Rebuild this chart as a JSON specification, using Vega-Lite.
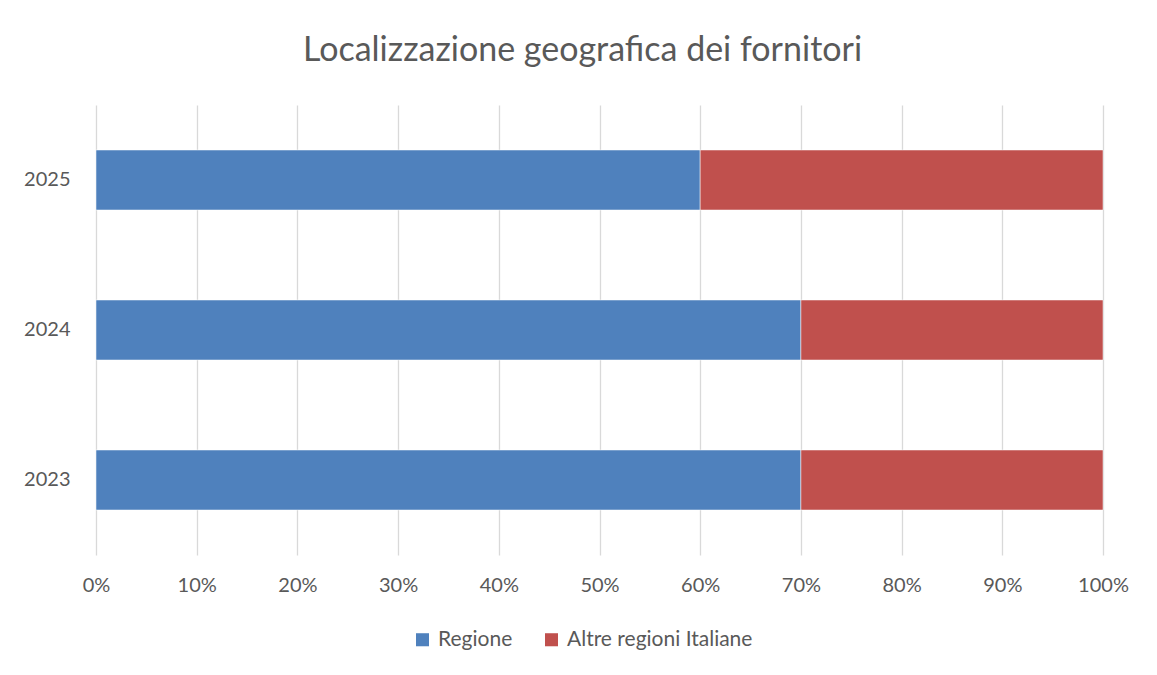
{
  "$schema": "https://vega.github.io/schema/vega-lite/v6.json",
  "width": 1007,
  "height": 450,
  "autosize": {"type": "none"},
  "padding": {"left": 96, "top": 105, "right": 54, "bottom": 120},
  "background": "white",
  "title": {
    "text": "Localizzazione geografica dei fornitori",
    "font": "Lato",
    "fontSize": 34,
    "fontWeight": "normal",
    "color": "#595959",
    "anchor": "middle",
    "dx": -17,
    "offset": 37
  },
  "data": {
    "values": [
      {"anno": "2025", "serie": "Regione", "ord": 1, "valore": 60},
      {"anno": "2025", "serie": "Altre regioni Italiane", "ord": 2, "valore": 40},
      {"anno": "2024", "serie": "Regione", "ord": 1, "valore": 70},
      {"anno": "2024", "serie": "Altre regioni Italiane", "ord": 2, "valore": 30},
      {"anno": "2023", "serie": "Regione", "ord": 1, "valore": 70},
      {"anno": "2023", "serie": "Altre regioni Italiane", "ord": 2, "valore": 30}
    ]
  },
  "mark": {"type": "bar", "stroke": "white", "strokeWidth": 0.5},
  "encoding": {
    "y": {
      "field": "anno",
      "type": "nominal",
      "sort": ["2025", "2024", "2023"],
      "scale": {"paddingInner": 0.6, "paddingOuter": 0.3},
      "axis": {
        "title": null,
        "domain": false,
        "ticks": false,
        "labelFont": "Lato",
        "labelFontSize": 20,
        "labelColor": "#595959",
        "labelPadding": 26
      }
    },
    "x": {
      "field": "valore",
      "type": "quantitative",
      "stack": "normalize",
      "scale": {"domain": [0, 1]},
      "axis": {
        "title": null,
        "format": ".0%",
        "values": [0, 0.1, 0.2, 0.3, 0.4, 0.5, 0.6, 0.7, 0.8, 0.9, 1],
        "labelOverlap": false,
        "domain": false,
        "ticks": false,
        "grid": true,
        "gridColor": "#d9d9d9",
        "gridWidth": 1.3,
        "labelFont": "Lato",
        "labelFontSize": 20,
        "labelColor": "#595959",
        "labelPadding": 20,
        "labelFlush": false
      }
    },
    "color": {
      "field": "serie",
      "type": "nominal",
      "sort": ["Regione", "Altre regioni Italiane"],
      "scale": {"domain": ["Regione", "Altre regioni Italiane"], "range": ["#4F81BD", "#C0504D"]},
      "legend": {
        "title": null,
        "orient": "none",
        "direction": "horizontal",
        "legendX": 316,
        "legendY": 524,
        "symbolType": "square",
        "symbolSize": 170,
        "symbolStrokeWidth": 0,
        "labelFont": "Lato",
        "labelFontSize": 21,
        "labelColor": "#595959",
        "labelOffset": 5,
        "labelLimit": 400,
        "columnPadding": 28
      }
    },
    "order": {"field": "ord", "type": "quantitative"}
  },
  "config": {
    "view": {"stroke": null}
  }
}
